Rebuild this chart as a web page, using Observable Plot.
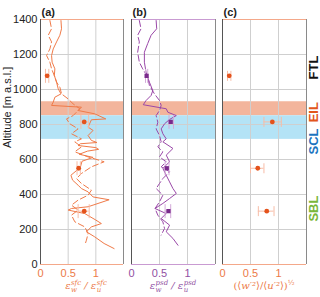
<!DOCTYPE html>
<html>
<head>
<meta charset="utf-8">
<script src="https://cdn.jsdelivr.net/npm/d3@7"></script>
<script src="https://cdn.jsdelivr.net/npm/@observablehq/plot@0.6"></script>
<style>
  html, body { margin: 0; padding: 0; background: #fff; }
  #chart { position: relative; width: 320px; height: 297px; overflow: hidden; font-family: "Liberation Sans", Arial, sans-serif; }
  .xl { position: absolute; top: 280px; height: 14px; line-height: 12px; text-align: center; font-family: "DejaVu Serif", "Liberation Serif", serif; font-style: italic; font-size: 10px; white-space: nowrap; }
  .ss { display: inline-block; position: relative; font-size: 7px; line-height: 7px; vertical-align: 4px; margin-left: 0.5px; }
  .ss .sb { position: absolute; left: 0; top: 7px; }
  .xl sup { font-size: 7px; line-height: 7px; }
</style>
</head>
<body>
<div id="chart"></div>
<script>
// ---------- data ----------
const altTicks = [0, 200, 400, 600, 800, 1000, 1200, 1400];
const xTicks = [0, 0.5, 1];
const xDomain = [0, 1.5];
const altDomain = [0, 1400];

const eilBand = [850, 930];
const sclBand = [715, 850];

const layerNames = ["FTL", "EIL", "SCL", "SBL"];
const layerLabelAlt = [1194, 928, 777, 394];

const pointAlt = [1078, 815, 550, 305];
const ratioSfc   = [0.12, 0.79, 0.69, 0.79];
const ratioSfcLo = [0.09, 0.73, 0.66, 0.68];
const ratioSfcHi = [0.15, 0.87, 0.72, 0.88];
const ratioPsd   = [0.27, 0.70, 0.63, 0.66];
const ratioPsdLo = [0.25, 0.67, 0.60, 0.60];
const ratioPsdHi = [0.29, 0.75, 0.67, 0.70];
const ratioVar   = [0.12, 0.89, 0.63, 0.79];
const ratioVarLo = [0.09, 0.74, 0.50, 0.64];
const ratioVarHi = [0.15, 1.05, 0.74, 0.92];

// profiles: [value, altitude]
const sfcSolid = [[0.37,1394],[0.38,1347],[0.35,1310],[0.29,1272],[0.23,1232],[0.20,1194],[0.21,1156],[0.26,1118],[0.25,1080],[0.29,1042],[0.32,1004],[0.37,975],[0.26,956],[0.23,928],[0.20,909],[0.74,899],[0.68,880],[0.98,861],[1.18,832],[0.92,827],[0.86,785],[0.95,766],[0.86,737],[0.92,709],[1.02,697],[0.72,690],[0.68,680],[1.00,668],[1.05,658],[0.85,648],[0.70,630],[0.95,612],[0.75,590],[0.72,555],[0.55,510],[0.58,482],[0.68,453],[0.74,434],[0.86,415],[0.95,386],[1.24,370],[0.86,330],[0.56,320],[0.50,311],[0.80,291],[1.00,254],[1.10,234],[0.92,215],[0.83,187],[0.98,158],[1.15,120],[1.33,91]];
const sfcDashed = [[0.17,1394],[0.20,1347],[0.14,1310],[0.20,1272],[0.17,1232],[0.11,1194],[0.17,1156],[0.20,1118],[0.26,1071],[0.29,1042],[0.35,1013],[0.38,975],[0.50,946],[0.59,918],[0.71,890],[0.59,851],[0.47,832],[0.53,804],[0.68,775],[0.56,747],[0.74,718],[0.62,701],[0.74,672],[0.62,644],[0.86,615],[1.15,587],[0.92,558],[0.74,520],[0.65,491],[0.74,463],[0.92,425],[0.86,396],[0.68,368],[0.56,339],[0.68,311],[0.56,282],[0.62,244],[0.80,215],[0.86,177],[0.83,139],[0.80,110]];
const psdSolid = [[0.44,1394],[0.45,1347],[0.35,1310],[0.29,1263],[0.23,1213],[0.23,1156],[0.26,1099],[0.32,1042],[0.38,994],[0.35,966],[0.26,937],[0.21,913],[0.62,890],[0.65,870],[0.80,851],[0.68,829],[0.59,804],[0.53,775],[0.56,747],[0.62,718],[0.56,701],[0.74,663],[0.62,625],[0.68,587],[0.56,549],[0.62,510],[0.68,472],[0.74,434],[0.80,406],[0.68,377],[0.56,349],[0.42,320],[0.62,291],[0.53,263],[0.68,225],[0.62,187],[0.74,149],[0.83,110]];
const psdDashed = [[0.14,1394],[0.17,1347],[0.11,1310],[0.14,1272],[0.11,1213],[0.14,1156],[0.20,1118],[0.29,1071],[0.32,1023],[0.41,975],[0.50,937],[0.53,909],[0.50,880],[0.44,851],[0.47,813],[0.44,775],[0.50,737],[0.53,701],[0.47,672],[0.56,644],[0.50,615],[0.62,587],[0.53,558],[0.68,530],[0.56,491],[0.50,463],[0.44,434],[0.56,396],[0.50,358],[0.42,320],[0.47,282],[0.56,244],[0.59,206],[0.53,168]];

// ---------- styles ----------
const ORANGE_LINE = "#f07a48", ORANGE_PT = "#e4521b", ORANGE_ERR = "#f7bca6", ORANGE_TXT = "#ec7a48";
const PURPLE_LINE = "#9a48a8", PURPLE_PT = "#7a2a8c", PURPLE_ERR = "#d3abd9", PURPLE_TXT = "#9150a2";
const layerColor = {FTL: "#111111", EIL: "#e2561c", SCL: "#1d74bf", SBL: "#79b63a"};
const FONT = "Liberation Sans, Arial, sans-serif";

const points = (vals, lo, hi) => pointAlt.map((a, i) => ({alt: a, v: vals[i], lo: lo[i], hi: hi[i]}));
const vbar = h => ({draw(ctx) { ctx.moveTo(0, -h); ctx.lineTo(0, h); }});

function base(topColor, bottomColor, tickColor) {
  return [
    Plot.rectY([eilBand], {y1: d => d[0], y2: d => d[1], fill: "#f3b59c"}),
    Plot.rectY([sclBand], {y1: d => d[0], y2: d => d[1], fill: "#b4e3f6"}),
    Plot.gridY(altTicks, {stroke: "#cfcfcf", strokeOpacity: 1}),
    Plot.gridX(xTicks.slice(1), {stroke: "#cfcfcf", strokeOpacity: 1}),
    Plot.ruleY([altDomain[1]], {stroke: topColor}),
    Plot.ruleY([altDomain[0]], {stroke: bottomColor}),
    Plot.ruleX([xDomain[0]], {stroke: "#555"}),
    Plot.ruleX([xDomain[1]], {stroke: "#8a8a8a"}),
    Plot.axisX({ticks: xTicks, tickSize: 0, tickPadding: 5, fontSize: 11, color: tickColor, label: null, tickFormat: d => String(d)})
  ];
}

function errMarks(data, color, cap) {
  return [
    Plot.ruleY(data, {y: "alt", x1: "lo", x2: "hi", stroke: color, strokeWidth: 1}),
    Plot.dot(data, {x: "lo", y: "alt", symbol: vbar(cap), stroke: color, strokeWidth: 1}),
    Plot.dot(data, {x: "hi", y: "alt", symbol: vbar(cap), stroke: color, strokeWidth: 1})
  ];
}

const common = {height: 297, marginTop: 19, marginBottom: 33,
  x: {domain: xDomain}, y: {domain: altDomain},
  style: {fontFamily: FONT, fontSize: "11px", background: "transparent"}};

const chart = document.getElementById("chart");
function place(svg, left) {
  svg.style.position = "absolute"; svg.style.left = left + "px"; svg.style.top = "0px";
  chart.append(svg);
}

// panel (a)
const pa = points(ratioSfc, ratioSfcLo, ratioSfcHi);
place(Plot.plot({...common, width: 126, marginLeft: 40, marginRight: 3,
  marks: [
    ...base("#f4a88a", "#f4a88a", ORANGE_TXT),
    Plot.axisY({ticks: altTicks, tickSize: 0, tickPadding: 3, fontSize: 11, color: "#222", label: null, tickFormat: d => String(d)}),
    Plot.text(["Altitude [m a.s.l.]"], {text: d => d, frameAnchor: "left", dx: -33, dy: 6, rotate: -90, fontSize: 11, fill: "#222"}),
    Plot.text(["(a)"], {text: d => d, frameAnchor: "top-left", dy: -11, dx: 1, textAnchor: "start", fontWeight: "bold", fontSize: 11, fill: "#222"}),
    Plot.line(sfcDashed, {x: d => d[0], y: d => d[1], stroke: ORANGE_LINE, strokeWidth: 1, strokeDasharray: "6,3"}),
    Plot.line(sfcSolid, {x: d => d[0], y: d => d[1], stroke: ORANGE_LINE, strokeWidth: 1}),
    ...errMarks(pa, ORANGE_ERR, 7),
    Plot.dot(pa, {x: "v", y: "alt", r: 2.4, fill: ORANGE_PT, stroke: "none"})
  ]}), 0);

// panel (b)
const pb = points(ratioPsd, ratioPsdLo, ratioPsdHi);
place(Plot.plot({...common, width: 92, marginLeft: 5, marginRight: 3,
  y: {domain: altDomain, axis: null},
  marks: [
    ...base("#c99bd2", "#c99bd2", PURPLE_TXT),
    Plot.text(["(b)"], {text: d => d, frameAnchor: "top-left", dy: -11, dx: 1, textAnchor: "start", fontWeight: "bold", fontSize: 11, fill: "#222"}),
    Plot.line(psdDashed, {x: d => d[0], y: d => d[1], stroke: PURPLE_LINE, strokeWidth: 1, strokeDasharray: "6,3"}),
    Plot.line(psdSolid, {x: d => d[0], y: d => d[1], stroke: PURPLE_LINE, strokeWidth: 1}),
    ...errMarks(pb, PURPLE_ERR, 7),
    Plot.dot(pb, {x: "v", y: "alt", r: 2.4, symbol: "square", fill: PURPLE_PT, stroke: "none"})
  ]}), 126);

// panel (c)
const pc = points(ratioVar, ratioVarLo, ratioVarHi);
const labels = layerNames.map((n, i) => ({name: n, alt: layerLabelAlt[i]}));
place(Plot.plot({...common, width: 102, marginLeft: 4, marginRight: 14,
  y: {domain: altDomain, axis: null},
  marks: [
    ...base("#f4a88a", "#f4a88a", ORANGE_TXT),
    Plot.text(["(c)"], {text: d => d, frameAnchor: "top-left", dy: -11, dx: 1, textAnchor: "start", fontWeight: "bold", fontSize: 11, fill: "#222"}),
    ...errMarks(pc, ORANGE_ERR, 5),
    Plot.dot(pc, {x: "v", y: "alt", r: 2.4, fill: ORANGE_PT, stroke: "none"}),
    ...labels.map(l => Plot.text([l], {y: "alt", text: "name", frameAnchor: "right", dx: 7, rotate: -90, fontWeight: "bold", fontSize: 13, fill: layerColor[l.name]}))
  ]}), 218);

// x-axis labels (math text)
const xl = (left, width, color, html) => {
  const d = document.createElement("div");
  d.className = "xl"; d.style.left = left + "px"; d.style.width = width + "px"; d.style.color = color;
  d.innerHTML = html; chart.append(d);
};
const eps = (sup, sub) => `ε<span class="ss">${sup}<span class="sb">${sub}</span></span>`;
xl(40, 92, ORANGE_TXT, `${eps("sfc", "w")} / ${eps("sfc", "u")}`);
xl(131, 84, PURPLE_TXT, `${eps("psd", "w")} / ${eps("psd", "u")}`);
xl(222, 84, ORANGE_TXT, '<span style="font-style:normal">(⟨</span>w′²<span style="font-style:normal">⟩/⟨</span>u′²<span style="font-style:normal">⟩)</span><sup style="font-style:normal">½</sup>');
</script>
</body>
</html>
